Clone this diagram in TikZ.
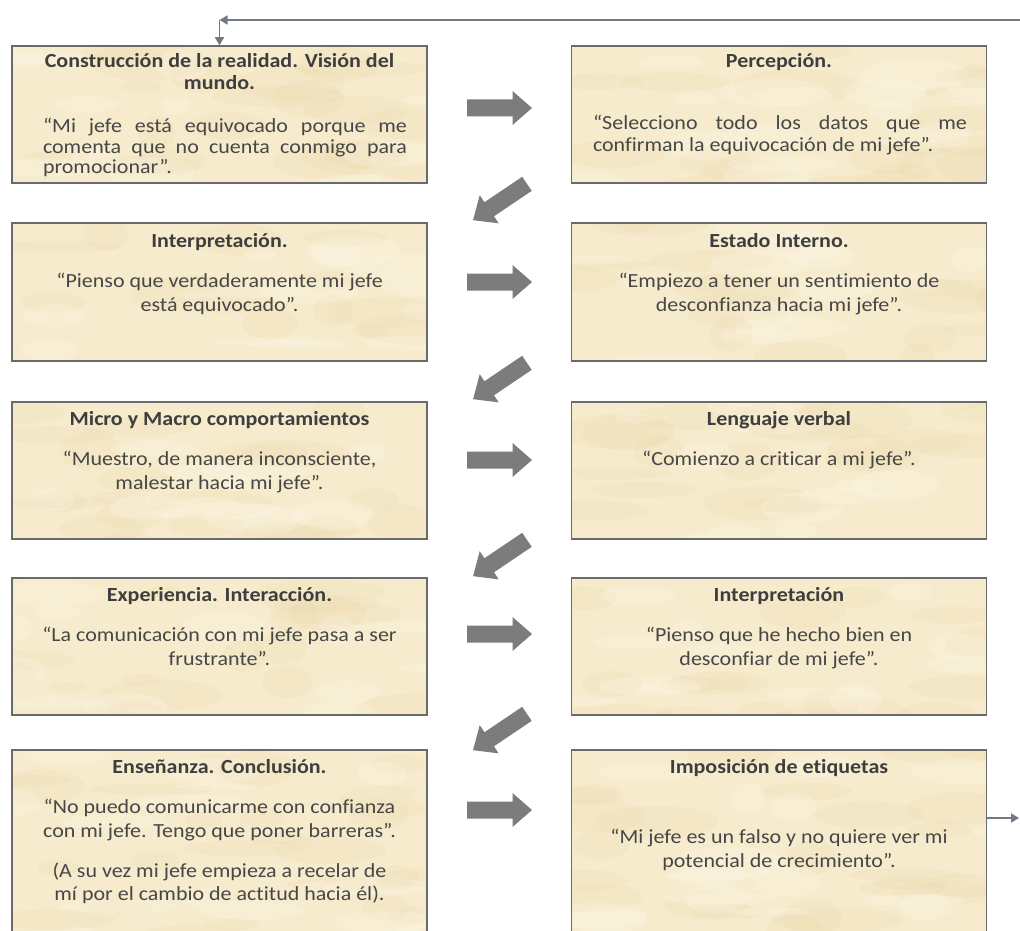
\documentclass[tikz,border=0pt]{standalone}
\usepackage{fontspec}
\setmainfont{Carlito}[FakeStretch=1.1, Ligatures=NoCommon]
\usetikzlibrary{arrows.meta}

\definecolor{paper}{HTML}{F6EBCC}
\definecolor{blotdark}{HTML}{E6D09C}
\definecolor{blotlight}{HTML}{FCF7E8}
\definecolor{edge}{HTML}{6A6A6A}
\definecolor{titleink}{HTML}{3E3E3E}
\definecolor{bodyink}{HTML}{474747}
\definecolor{blockgray}{HTML}{7C7C7C}
\definecolor{linkgray}{HTML}{6F7A84}

% centred stack of lines; the box baseline is the first line's baseline
\newcommand{\txtstack}[2]{\vtop{\baselineskip=#1\relax\lineskiplimit=-30pt\halign{\hfil##\hfil\cr#2\crcr}}}

\pgfmathsetseed{4711}

\tikzset{
  card/.style={draw=edge, line width=1.5pt, fill=paper, inner sep=0pt,
               minimum width=415pt,
               path picture={
                 % mottled parchment
                 \foreach \k in {1,...,30}{
                   \pgfmathsetmacro\u{rnd*430}
                   \pgfmathsetmacro\v{rnd*225}
                   \pgfmathsetmacro\a{18+rnd*50}
                   \pgfmathsetmacro\b{5+rnd*14}
                   \fill[blotdark, opacity=0.12]
                     ([shift={(\u,\v)}]path picture bounding box.north west)
                     ellipse (\a pt and \b pt);
                 }
                 \foreach \k in {1,...,20}{
                   \pgfmathsetmacro\u{rnd*430}
                   \pgfmathsetmacro\v{rnd*225}
                   \pgfmathsetmacro\a{15+rnd*45}
                   \pgfmathsetmacro\b{4+rnd*12}
                   \fill[blotlight, opacity=0.25]
                     ([shift={(\u,\v)}]path picture bounding box.north west)
                     ellipse (\a pt and \b pt);
                 }
               }},
  head/.style={anchor=base, inner sep=0pt, text=titleink,
               font=\fontsize{20}{24}\selectfont\bfseries},
  body/.style={anchor=base, inner sep=0pt, text=bodyink,
               font=\fontsize{20}{24}\selectfont},
  link/.style={draw=linkgray, line width=1.6pt,
               -{Triangle[length=8pt,width=9pt]}},
  fatarrow/.pic={
    \fill[blockgray] (-32.5,-8.5) -- (13,-8.5) -- (13,-17) -- (32.5,0)
       -- (13,17) -- (13,8.5) -- (-32.5,8.5) -- cycle;
  }
}

\begin{document}
\begin{tikzpicture}[x=1pt,y=-1pt]
\useasboundingbox (0,0) rectangle (1020,931);
\clip (0,0) rectangle (1020,931);

% ---- cards ----
\node[card, minimum height=137pt] (b1)  at (219.5,114.5) {};
\node[card, minimum height=137pt] (b2)  at (779,114.5) {};
\node[card, minimum height=138pt] (b3)  at (219.5,292) {};
\node[card, minimum height=138pt] (b4)  at (779,292) {};
\node[card, minimum height=137pt] (b5)  at (219.5,470.5) {};
\node[card, minimum height=137pt] (b6)  at (779,470.5) {};
\node[card, minimum height=137pt] (b7)  at (219.5,646.5) {};
\node[card, minimum height=137pt] (b8)  at (779,646.5) {};
\node[card, minimum height=220pt] (b9)  at (219.5,860) {};
\node[card, minimum height=220pt] (b10) at (779,860) {};

% ---- texts ----
\node[head] (h1) at (219.5,68) {\txtstack{22pt}{Construcción de la realidad. Visión del\cr mundo.}};
\node[body] (q1) at (225,132) {\txtstack{21pt}{%
  \makebox[364pt][s]{“Mi jefe está equivocado porque me}\cr
  \makebox[364pt][s]{comenta que no cuenta conmigo para}\cr
  \makebox[364pt][l]{promocionar”.}}};

\node[head] (h2) at (779,68) {Percepción.};
\node[body] (q2) at (780,130) {\txtstack{22pt}{%
  \makebox[374pt][s]{“Selecciono todo los datos que me}\cr
  \makebox[374pt][l]{confirman la equivocación de mi jefe”.}}};

\node[head] (h3) at (219.5,247) {Interpretación.};
\node[body] (q3) at (219.5,287) {\txtstack{24pt}{“Pienso que verdaderamente mi jefe\cr está equivocado”.}};

\node[head] (h4) at (779,247) {Estado Interno.};
\node[body] (q4) at (779,287) {\txtstack{24pt}{“Empiezo a tener un sentimiento de\cr desconfianza hacia mi jefe”.}};

\node[head] (h5) at (219.5,425) {Micro y Macro comportamientos};
\node[body] (q5) at (219.5,465) {\txtstack{24pt}{“Muestro, de manera inconsciente,\cr malestar hacia mi jefe”.}};

\node[head] (h6) at (779,425) {Lenguaje verbal};
\node[body] (q6) at (779,465) {“Comienzo a criticar a mi jefe”.};

\node[head] (h7) at (219.5,601) {Experiencia. Interacción.};
\node[body] (q7) at (219.5,641) {\txtstack{24pt}{“La comunicación con mi jefe pasa a ser\cr frustrante”.}};

\node[head] (h8) at (779,601) {Interpretación};
\node[body] (q8) at (779,641) {\txtstack{24pt}{“Pienso que he hecho bien en\cr desconfiar de mi jefe”.}};

\node[head] (h9) at (219.5,773) {Enseñanza. Conclusión.};
\node[body] (q9) at (219.5,813) {\txtstack{24pt}{“No puedo comunicarme con confianza\cr con mi jefe. Tengo que poner barreras”.}};
\node[body] (p9) at (219.5,877) {\txtstack{23pt}{(A su vez mi jefe empieza a recelar de\cr mí por el cambio de actitud hacia él).}};

\node[head] (h10) at (779,773) {Imposición de etiquetas};
\node[body] (q10) at (779,843) {\txtstack{24pt}{“Mi jefe es un falso y no quiere ver mi\cr potencial de crecimiento”.}};

% ---- block arrows between cards ----
\pic at (499.5,108) {fatarrow};
\pic at (499.5,282) {fatarrow};
\pic at (499.5,460) {fatarrow};
\pic at (499.5,634) {fatarrow};
\pic at (499.5,810) {fatarrow};

\pic[rotate=214] at (500,202) {fatarrow};
\pic[rotate=214] at (500,381) {fatarrow};
\pic[rotate=214] at (500,558) {fatarrow};
\pic[rotate=214] at (500,732) {fatarrow};

% ---- feedback loop ----
\coordinate (loopR) at (1020,20);
\coordinate (loopL) at (219.5,20);
\coordinate (outR) at (1019,818);
\draw[link] (loopR) -- (loopL);
\draw[link] (loopL) -- (b1.north);
\draw[link] (b10.east |- outR) -- (outR);
\end{tikzpicture}
\end{document}
